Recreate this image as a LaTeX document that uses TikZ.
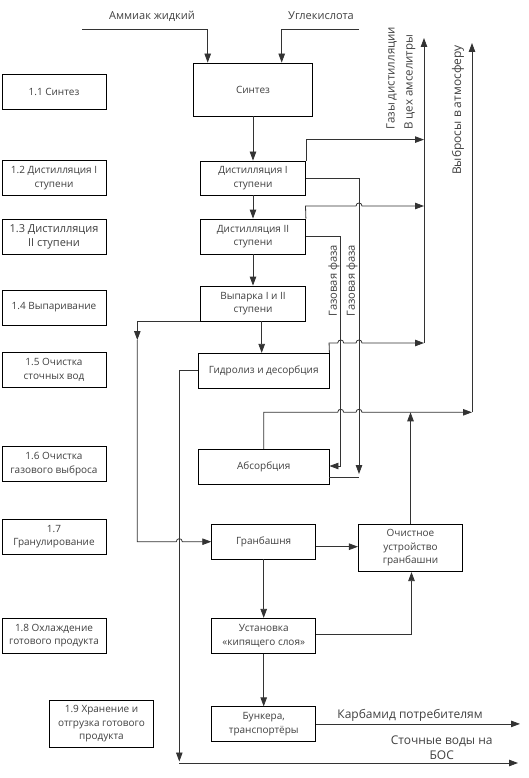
\documentclass[tikz,border=0pt]{standalone}
\usepackage{fontspec}
\setmainfont{Open Sans}
\usetikzlibrary{arrows.meta}
\begin{document}
\begin{tikzpicture}[x=1pt,y=-1pt,
  box/.style={draw=black, line width=0.8pt, fill=white, align=center, inner sep=1pt,
    font=\fontsize{10}{13.5}\selectfont, text=black!75},
  lbox/.style={box, minimum width=104pt, minimum height=35pt},
  conn/.style={line width=0.8pt, draw=black!80},
  arr/.style={conn, -{Triangle[length=9pt,width=6.5pt]}},
  lbl/.style={font=\fontsize{11}{14}\selectfont, text=black!75, inner sep=0pt},
]
\useasboundingbox (0,0) rectangle (529,778);

% main process boxes
\node[box, minimum width=119pt, minimum height=53pt] (syn) at (253,89.5) {Синтез};
\node[box, minimum width=105pt, minimum height=34pt] (d1) at (253,178) {Дистилляция I\\ступени};
\node[box, minimum width=105pt, minimum height=35pt] (d2) at (253,236.5) {Дистилляция II\\ступени};
\node[box, minimum width=105pt, minimum height=35pt] (vyp) at (253,303.5) {Выпарка I и II\\ступени};
\node[box, minimum width=130.7pt, minimum height=35pt] (gid) at (263.7,370.8) {Гидролиз и десорбция};
\node[box, minimum width=130.7pt, minimum height=35pt] (abs) at (263.7,466.8) {Абсорбция};
\node[box, minimum width=104pt, minimum height=34.7pt] (gran) at (263.7,541.7) {Гранбашня};
\node[box, minimum width=104.3pt, minimum height=47.4pt] (och) at (410.5,548) {Очистное\\устройство\\гранбашни};
\node[box, minimum width=104pt, minimum height=35pt] (ust) at (263.7,635.8) {Установка\\«кипящего слоя»};
\node[box, minimum width=104pt, minimum height=34.3pt] (bunk) at (263.7,723.9) {Бункера,\\транспортёры};

% left column
\node[lbox] (l1) at (54,91.5) {1.1 Синтез};
\node[lbox] (l2) at (54,178.2) {1.2 Дистилляция I\\ступени};
\node[lbox, font=\fontsize{11}{14}\selectfont] (l3) at (54,237) {1.3 Дистилляция\\II ступени};
\node[lbox] (l4) at (54,307.5) {1.4 Выпаривание};
\node[lbox] (l5) at (54,370) {1.5 Очистка\\сточных вод};
\node[lbox] (l6) at (54,464.2) {1.6 Очистка\\газового выброса};
\node[lbox] (l7) at (54,536.8) {1.7\\Гранулирование};
\node[lbox] (l8) at (54,635.8) {1.8 Охлаждение\\готового продукта};
\node[box, minimum width=104.4pt, minimum height=47.3pt] (l9) at (101.5,723.7) {1.9 Хранение и\\отгрузка готового\\продукта};

% labels
\node[lbl] (lam) at (152,16) {Аммиак жидкий};
\node[lbl] (lug) at (321,16) {Углекислота};
\node[lbl, rotate=90, anchor=west, align=left, font=\fontsize{11.5}{18}\selectfont] (lgaz) at (401,130) {Газы дистилляции\\В цех амселитры};
\node[lbl, rotate=90, anchor=west, font=\fontsize{12}{14}\selectfont] (lvyb) at (458,175) {Выбросы в атмосферу};
\node[lbl, rotate=90, anchor=west, font=\fontsize{11.2}{14}\selectfont] (lgf1) at (334,317) {Газовая фаза};
\node[lbl, rotate=90, anchor=west, font=\fontsize{11.2}{14}\selectfont] (lgf2) at (352,317) {Газовая фаза};
\node[lbl, font=\fontsize{12}{14}\selectfont] (lkarb) at (410,715) {Карбамид потребителям};
\node[lbl, align=center, font=\fontsize{12}{15}\selectfont] (lst) at (441.7,747.5) {Сточные воды на\\БОС};

% helper coordinates
\coordinate (am0) at (82,29);
\coordinate (ug0) at (359,29);
\coordinate (gtop) at (424,38);
\coordinate (gbot) at (424,343);
\coordinate (vtop) at (472,43);
\coordinate (vbot) at (472,412.3);
\coordinate (aj) at (359,477);
\coordinate (ak) at (340.7,466);
\coordinate (vl) at (137.3,340);
\coordinate (sv) at (179.3,763);
\coordinate (svend) at (518,763);
\coordinate (kend) at (520,723.9);

% inputs
\draw[arr] (am0) -| ([xshift=-45.3pt]syn.north);
\draw[arr] (ug0) -| ([xshift=28.7pt]syn.north);

% main chain
\draw[arr] (syn) -- (d1);
\draw[arr] (d1) -- (d2);
\draw[arr] (d2) -- (vyp);
\draw[arr] ([xshift=8.7pt]vyp.south) -- ([xshift=8.7pt]vyp.south |- gid.north);

% collectors
\draw[arr] (gbot) -- (gtop);
\draw[arr] (vbot) -- (vtop);

% distillation gases
\draw[arr] (d1.north east) -- ++(0,-21) coordinate (t1) -- (t1 -| gtop);
\draw[arr] (d2.north east) -- (305.5,206) -- (356,206) .. controls (356,202) and (362,202) .. (362,206) -- (424,206);
\draw[arr] (gid.north east) -- (329.05,343) -- (337.7,343) .. controls (337.7,339) and (343.7,339) .. (343.7,343)
  -- (356,343) .. controls (356,339) and (362,339) .. (362,343) -- (gbot);

% gas phase lines
\draw[arr] (d1.east) -| ([yshift=3pt]aj);
\draw[conn] (abs.east |- aj) -- (aj);
\draw[arr] (d2.east) -| (ak) -- (abs.east |- ak);

% absorption exhaust
\draw[arr] (abs.north) -- (263.7,412.3) -- (337.7,412.3) .. controls (337.7,408.3) and (343.7,408.3) .. (343.7,412.3)
  -- (356,412.3) .. controls (356,408.3) and (362,408.3) .. (362,412.3) -- (vbot);
\draw[arr] (och.north) -- (och.north |- vbot);

% evaporation to prilling tower
\draw[arr] (vyp.south west) -| (vl);
\draw[arr] (vl) -- (137.3,541.7) -- (176.3,541.7) .. controls (176.3,537.7) and (182.3,537.7) .. (182.3,541.7) -- (gran.west);

% waste water
\draw[arr] (gid.west) -| ([yshift=1.5pt]sv);
\draw[arr] (sv) -- (svend);

% granulation chain
\draw[arr] ([yshift=-5pt]gran.east) -- ([yshift=-5pt]gran.east -| och.west);
\draw[arr] (gran) -- (ust);
\draw[arr] ([yshift=1.5pt]ust.east) -| ([xshift=1pt]och.south);
\draw[arr] (ust) -- (bunk);
\draw[arr] (bunk.east) -- (kend);
\end{tikzpicture}
\end{document}
